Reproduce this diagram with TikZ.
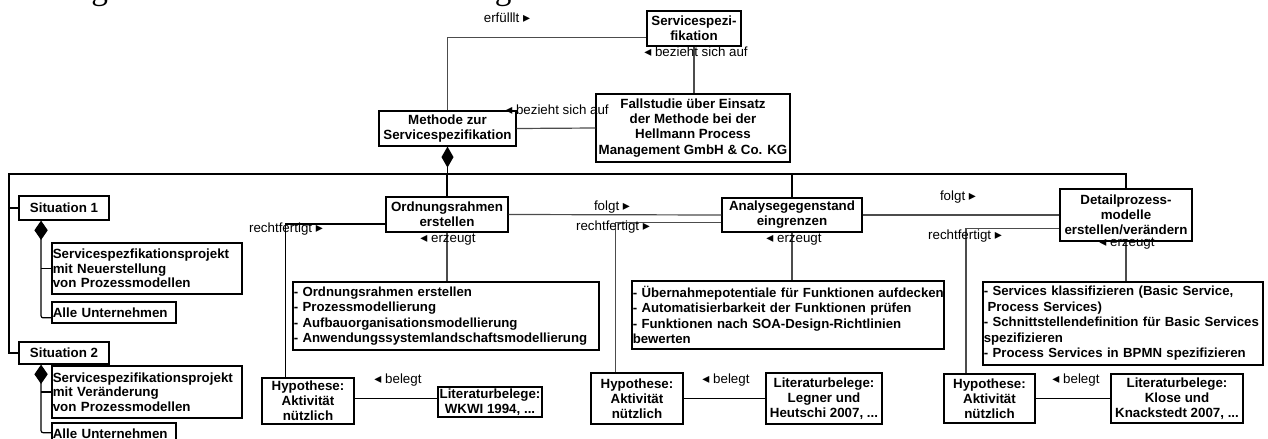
\documentclass[tikz,border=0pt]{standalone}
\usepackage{fontspec}
\setmainfont{Liberation Sans}
\newfontfamily\serifdoc{Liberation Serif}
\newfontfamily\symbfont{DejaVu Sans}
\usetikzlibrary{arrows.meta}
\newcommand\trR{{\symbfont\fontsize{10.5}{9}\selectfont ▸}}
\newcommand\trL{{\symbfont\fontsize{10.5}{9}\selectfont ◂}}
\newcommand\oneline[1]{\mbox{#1}}
\hyphenpenalty=10000
\tikzset{
  sz/.style 2 args={minimum width=#1*0.75pt, minimum height=#2*0.75pt},
  box/.style={draw=black, line width=0.9pt, fill=white, inner sep=0pt, align=center,
    font=\bfseries\fontsize{10}{11.3}\selectfont},
  res/.style 2 args={box, align=left, minimum height=#2*0.75pt,
    text width=#1*0.75pt-1.2pt, inner xsep=0.6pt, font=\bfseries\fontsize{9.9}{11.6}\selectfont},
  lab/.style={inner sep=0pt, font=\fontsize{10}{11}\selectfont},
  con/.style={line width=0.9pt, draw=black!70},
}
\begin{document}
\begin{tikzpicture}[x=0.75pt, y=-0.75pt]
\useasboundingbox (0,0) rectangle (1268,439);
\clip (0,0) rectangle (1268,439);

\node[anchor=base west, inner sep=0pt, font=\serifdoc\fontsize{25}{30}\selectfont] (head) at (0,-1) {Das Ergebnis findet sich in Abbildung 3.};

% boxes
\node[box, sz={94}{35}] (spec) at (694,28.5) {Servicespezi-\\fikation};
\node[box, sz={194}{68}] (fall) at (693,128) {Fallstudie über Einsatz\\der Methode bei der\\Hellmann Process\\Management GmbH \& Co. KG};
\node[box, sz={137}{35}] (meth) at (447.5,128.5) {Methode zur\\Servicespezifikation};
\node[box, sz={122}{35}] (ord) at (447,214.5) {Ordnungsrahmen\\erstellen};
\node[box, sz={140}{34}] (ana) at (792,215) {Analysegegenstand\\eingrenzen};
\node[box, sz={132}{52}] (det) at (1126,215) {Detailprozess-\\modelle\\erstellen/verändern};

\node[box, sz={90}{24}] (sit1) at (64,208) {Situation 1};
\node[res={190}{51}, font=\bfseries\fontsize{10}{10.9}\selectfont] (s1a) at (147,268.5) {Servicespezfikationsprojekt\\mit Neuerstellung\\von Prozessmodellen};
\node[res={124}{21}, font=\bfseries\fontsize{10}{11}\selectfont] (s1b) at (114,312.5) {Alle Unternehmen};
\node[box, sz={90}{22}] (sit2) at (64,353) {Situation 2};
\node[res={190}{52}, font=\bfseries\fontsize{10}{10.9}\selectfont] (s2a) at (147,392) {Servicespezifikationsprojekt\\mit Veränderung\\von Prozessmodellen};
\node[res={124}{22}, font=\bfseries\fontsize{10}{11}\selectfont] (s2b) at (114,434) {Alle Unternehmen};

\node[res={306}{68}] (res1) at (446,316) {\oneline{- Ordnungsrahmen erstellen}\\\oneline{- Prozessmodellierung}\\\oneline{- Aufbauorganisationsmodellierung}\\\oneline{- Anwendungssystemlandschaftsmodellierung}};
\node[res={312}{68}] (res2) at (788,315) {\oneline{- Übernahmepotentiale für Funktionen aufdecken}\\\oneline{- Automatisierbarkeit der Funktionen prüfen}\\\oneline{- Funktionen nach SOA-Design-Richtlinien}\\\oneline{bewerten}};
\node[res={280}{83}] (res3) at (1123,323.5) {\oneline{- Services klassifizieren (Basic Service,}\\\oneline{\hspace*{0.28em}Process Services)}\\\oneline{- Schnittstellendefinition für Basic Services}\\\oneline{spezifizieren}\\\oneline{- Process Services in BPMN spezifizieren}};

\node[box, sz={92}{46}] (hyp1) at (308,401) {Hypothese:\\Aktivität\\nützlich};
\node[box, sz={104}{30}] (lit1) at (490,402) {Literaturbelege:\\WKWI 1994, ...};
\node[box, sz={92}{51}] (hyp2) at (637,398.5) {Hypothese:\\Aktivität\\nützlich};
\node[box, sz={116}{51}] (lit2) at (824,398.5) {Literaturbelege:\\Legner und\\Heutschi 2007, ...};
\node[box, sz={91}{49}] (hyp3) at (989.5,398.5) {Hypothese:\\Aktivität\\nützlich};
\node[box, sz={132}{49}] (lit3) at (1177,398.5) {Literaturbelege:\\Klose und\\Knackstedt 2007, ...};

% connectors
\draw[con] (meth.north) |- ([yshift=-7pt]spec.west);
\draw[con] (spec.south) -- (spec.south |- fall.north);
\draw[con] (meth.east) -- (fall.west);

\coordinate (busL) at (9,174);
\coordinate (busR) at (1126,174);
\draw[con, draw=black] (sit1.west) -| (busL) -- (busR) -- (det.north);
\draw[con, draw=black] (sit2.west) -| (busL);
\draw[con, draw=black, -{Diamond[length=15.75pt,width=9pt]}] (meth.south |- busL) -- (meth.south);
\draw[con, draw=black] (ord.north) -- (ord.north |- busL);
\draw[con, draw=black] (ana.north) -- (ana.north |- busL);

\coordinate (d1) at ([xshift=17pt]sit1.south west);
\draw[con, draw=black, rounded corners=1.5pt, -{Diamond[length=14.5pt,width=10pt]}] ([yshift=-4pt]s1b.west) -| (d1);
\draw[con, draw=black] (s1a.west) -- (s1a.west -| d1);
\coordinate (d2) at ([xshift=17pt]sit2.south west);
\draw[con, draw=black, rounded corners=1.5pt, -{Diamond[length=14.5pt,width=10pt]}] ([yshift=1pt]s2b.west) -| (d2);
\draw[con, draw=black] (s2a.west) -- (s2a.west -| d2);

\draw[con] (ord.east) -- (ana.west);
\draw[con] (ana.east) -- (det.west);
\draw[con, draw=black] ([yshift=-7.1pt]ord.west) -| ([xshift=17.8pt]hyp1.north west);
\draw[con] ([yshift=-5.8pt]ana.west) -| ([xshift=18.75pt]hyp2.north west);
\draw[con] ([yshift=-10pt]det.west) -| ([xshift=17pt]hyp3.north west);
\draw[con] (ord.south) -- (ord.south |- res1.north);
\draw[con] (ana.south) -- (ana.south |- res2.north);
\draw[con] (det.south) -- (det.south |- res3.north);
\draw[con, draw=black] ([yshift=2pt]hyp1.east) -- ([yshift=2pt]hyp1.east -| lit1.west);
\draw[con, draw=black] (hyp2.east) -- (lit2.west);
\draw[con, draw=black] (hyp3.east) -- (lit3.west);

% labels
\node[lab] (l1) at (507,18) {erfülllt \trR};
\node[lab] (l2) at (696,52) {\trL\ bezieht sich auf};
\node[lab] (l3) at (557,110) {\trL\ bezieht sich auf};
\node[lab] (l4) at (612,207) {folgt \trR};
\node[lab] (l5) at (958,197.5) {folgt \trR};
\node[lab] (l6) at (286,229) {rechtfertigt \trR};
\node[lab] (l7) at (613,227) {rechtfertigt \trR};
\node[lab] (l8) at (965,236) {rechtfertigt \trR};
\node[lab] (l9) at (448,239.5) {\trL\ erzeugt};
\node[lab] (l10) at (794,239.5) {\trL\ erzeugt};
\node[lab] (l11) at (1127,244) {\trL\ erzeugt};
\node[lab] (l12) at (398,380) {\trL\ belegt};
\node[lab] (l13) at (726,380) {\trL\ belegt};
\node[lab] (l14) at (1076,380) {\trL\ belegt};
\end{tikzpicture}
\end{document}
